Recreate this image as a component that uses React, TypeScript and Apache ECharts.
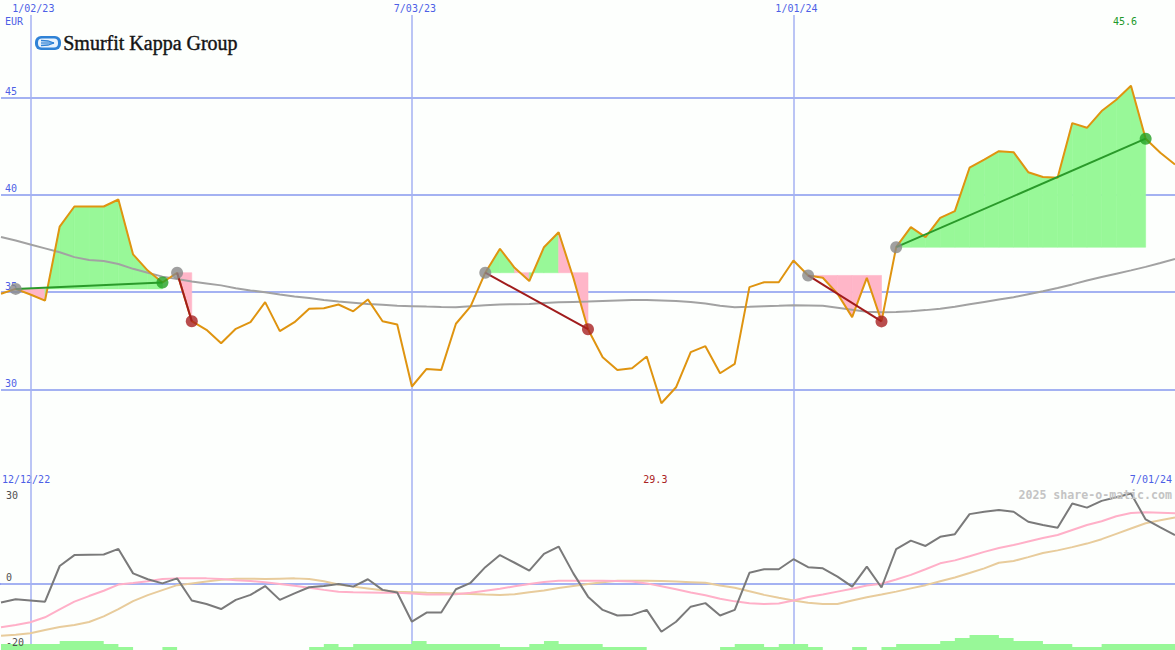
import React, { useEffect, useRef } from 'react';
import * as echarts from 'echarts';

// Weekly closes (index 0 = 19 Dec 2022 ... index 80 = 1 Jul 2024), EUR
const price = [
  34.92, 35.17, 34.88, 34.57, 38.37, 39.4, 39.4, 39.4, 39.76, 36.94,
  36.11, 35.5, 36.0, 33.51, 33.07, 32.38, 33.12, 33.46, 34.49, 33.0,
  33.46, 34.15, 34.18, 34.37, 34.02, 34.63, 33.51, 33.34, 30.16, 31.06,
  31.01, 33.38, 34.27, 36.0, 37.23, 36.25, 35.57, 37.31, 38.08, 35.74,
  33.1, 31.66, 31.01, 31.1, 31.7, 29.3, 30.12, 31.92, 32.23, 30.84,
  31.32, 35.26, 35.51, 35.51, 36.63, 35.86, 35.74, 34.92, 33.72, 35.74,
  33.5, 37.31, 38.34, 37.83, 38.82, 39.16, 41.39, 41.8, 42.24, 42.19,
  41.16, 40.91, 40.88, 43.68, 43.44, 44.3, 44.88, 45.6, 42.88, 42.16,
  41.56,
];

// Long moving average (grey)
const movingAvg = [
  37.83, 37.65, 37.45, 37.25, 37.05, 36.8, 36.65, 36.6, 36.45, 36.2,
  36.0, 35.8, 35.68, 35.55, 35.45, 35.35, 35.2, 35.09, 35.0, 34.88,
  34.78, 34.7, 34.6, 34.52, 34.46, 34.4, 34.35, 34.3, 34.28, 34.26,
  34.24, 34.23, 34.28, 34.33, 34.37, 34.38, 34.4, 34.45, 34.48, 34.5,
  34.52, 34.55, 34.58, 34.6, 34.6, 34.58, 34.55, 34.5, 34.42, 34.3,
  34.23, 34.25, 34.28, 34.3, 34.33, 34.32, 34.3, 34.2, 34.1, 34.0,
  33.97, 33.98, 34.02, 34.08, 34.15, 34.25, 34.38, 34.5, 34.62, 34.74,
  34.9, 35.05, 35.22, 35.4, 35.6, 35.78, 35.95, 36.12, 36.3, 36.5,
  36.71,
];

// Lower panel: oscillator (grey) and its two smoothings (pink, tan)
const oscillator = [
  -6.3, -5.2, -5.6, -6.0, 6.1, 9.8, 9.9, 10.0, 11.9, 3.6,
  1.6, 0.2, 1.9, -5.6, -6.8, -8.5, -5.4, -3.7, -0.7, -5.4,
  -3.2, -1.1, -0.7, 0.0, -0.9, 1.6, -2.0, -2.9, -12.8, -9.7,
  -9.7, -1.8, 0.4, 5.7, 9.8, 7.2, 4.5, 10.2, 12.7, 3.6,
  -4.3, -8.8, -10.7, -10.5, -8.8, -16.2, -12.8, -7.7, -6.5, -10.7,
  -8.8, 3.8, 5.0, 5.0, 8.4, 5.7, 5.3, 2.5, -0.9, 5.9,
  -1.2, 11.8, 14.7, 12.9, 16.0, 16.9, 23.7, 24.5, 25.1, 24.5,
  21.1, 20.0, 19.1, 27.3, 25.9, 28.2, 29.4, 30.7, 21.9, 19.2,
  16.6,
];
const oscPink = [
  -14.7, -13.9, -13.0, -11.3, -8.6, -6.0, -4.1, -2.3, -0.2, 0.3,
  0.9, 1.7, 1.9, 1.9, 1.9, 1.7, 1.3, 1.0, 0.6, 0.0,
  -0.6, -1.3, -2.0, -2.6, -2.8, -2.9, -3.0, -3.0, -3.2, -3.6,
  -3.6, -3.5, -3.0, -2.3, -1.6, -0.8, 0.0, 0.7, 1.1, 1.1,
  1.1, 1.1, 1.0, 0.8, 0.2, -0.8, -1.8, -2.9, -3.8, -5.0,
  -5.9, -6.5, -6.8, -6.6, -5.6, -4.4, -3.6, -2.6, -1.6, -0.5,
  0.1, 1.5, 3.1, 5.0, 7.0, 8.0, 9.4, 10.9, 12.2, 13.2,
  14.4, 15.6, 16.6, 18.3, 20.0, 21.3, 23.0, 24.1, 24.3, 24.2,
  24.0,
];
const oscTan = [
  -17.6, -17.2, -16.7, -15.6, -14.6, -13.9, -12.9, -11.0, -8.5, -5.8,
  -3.8, -2.1, -0.4, 0.2, 0.8, 1.4, 1.8, 1.8, 1.7, 1.8,
  1.9, 1.7, 0.9, -0.2, -0.9, -1.5, -2.1, -2.6, -2.8, -3.0,
  -3.1, -3.2, -3.4, -3.6, -3.7, -3.5, -2.8, -2.2, -1.4, -0.7,
  0.0, 0.6, 1.1, 1.1, 1.1, 1.0, 0.8, 0.6, 0.4, -0.5,
  -1.3, -2.5, -3.7, -4.7, -5.6, -6.4, -6.8, -6.8, -5.6, -4.5,
  -3.6, -2.6, -1.5, -0.4, 0.9, 2.2, 3.7, 5.3, 7.2, 7.8,
  9.1, 10.5, 11.4, 12.5, 13.7, 15.2, 17.0, 18.8, 20.6, 21.6,
  22.6,
];
// Relative weekly volume (arbitrary units)
const volume = [
  6, 6, 6, 6, 9, 9, 9, 6, 3, 0,
  0, 3, 0, 0, 0, 0, 0, 0, 0, 0,
  0, 3, 6, 3, 6, 6, 6, 6, 9, 6,
  6, 6, 6, 6, 3, 3, 6, 9, 6, 6,
  6, 3, 3, 3, 0, 0, 0, 0, 0, 3,
  6, 6, 3, 6, 6, 3, 0, 0, 3, 0,
  3, 6, 6, 6, 9, 12, 15, 15, 12, 9,
  9, 6, 6, 3, 3, 6, 6, 6, 6, 6,
  6,
];

// Trend segments (start / end week index)
const segStarts = [1, 12, 33, 55, 61];
const segEnds = [11, 13, 40, 60, 78];

const dateTickIdx = [2, 28, 54];
const dateTickLabels = ['1/02/23', '7/03/23', '1/01/24'];
const priceTicks = [30, 35, 40, 45];
const oscTicks = [-20, 0, 30];
const oscStartLabel = '12/12/22';
const oscEndLabel = '7/01/24';
const currency = 'EUR';
const companyName = 'Smurfit Kappa Group';
const watermark = '2025 share-o-matic.com';

const MONO = '"DejaVu Sans Mono", monospace';
const GRID_BLUE = '#a4b2f2';
const LABEL_BLUE = '#4d5fe6';
const FILL_GREEN = '#98f898';
const FILL_PINK = '#ffb6c8';

export default function App() {
  const ref = useRef<HTMLDivElement>(null);

  useEffect(() => {
    const chart = echarts.init(ref.current!, null, { renderer: 'svg' });

    const fillData: number[][] = [];
    segStarts.forEach((s, k) => {
      const e = segEnds[k];
      const base = price[s];
      for (let i = s; i < e; i++) {
        fillData.push([i, i + 1, price[i], price[i + 1], base, price[i + 1] >= base ? 1 : 0]);
      }
    });

    const hiIdx = price.indexOf(Math.max(...price));
    const loIdx = price.indexOf(Math.min(...price));

    const trendSeries = segStarts.map((s, k) => {
      const e = segEnds[k];
      const up = price[e] >= price[s];
      return {
        type: 'line',
        xAxisIndex: 0,
        yAxisIndex: 0,
        z: 4,
        symbol: 'none',
        silent: true,
        lineStyle: { color: up ? '#2a9a2a' : '#a01c1c', width: 2 },
        data: [[s, price[s]], [e, price[e]]],
      };
    });

    const endUp = segEnds.filter((e, k) => price[e] >= price[segStarts[k]]).map((e) => [e, price[e]]);
    const endDown = segEnds.filter((e, k) => price[e] < price[segStarts[k]]).map((e) => [e, price[e]]);

    const option: any = {
      animation: false,
      backgroundColor: '#fdfffd',
      grid: [
        { left: 1, right: 0, top: 15, height: 472 },
        { left: 1, right: 0, top: 487, height: 163 },
      ],
      xAxis: [
        {
          type: 'value', gridIndex: 0, min: 0, max: 80, position: 'top',
          axisLine: { show: false },
          axisTick: { show: false, customValues: dateTickIdx },
          axisLabel: {
            customValues: dateTickIdx,
            formatter: (v: number) => dateTickLabels[dateTickIdx.indexOf(v)] ?? '',
            color: LABEL_BLUE, fontFamily: MONO, fontSize: 10, margin: 2,
            padding: [0, 0, 0, 6],
          },
          splitLine: { show: true, lineStyle: { color: GRID_BLUE, width: 1.5 } },
        },
        {
          type: 'value', gridIndex: 1, min: 0, max: 80, position: 'top',
          axisLine: { show: true, lineStyle: { color: '#6e80f0', width: 2 } },
          axisTick: { show: false, customValues: dateTickIdx },
          axisLabel: { show: false },
          splitLine: { show: true, lineStyle: { color: GRID_BLUE, width: 1.5 } },
        },
      ],
      yAxis: [
        {
          type: 'value', gridIndex: 0, min: 25, max: 49.23,
          axisLine: { show: false },
          axisTick: { show: false, customValues: priceTicks },
          axisLabel: {
            customValues: priceTicks, inside: true, margin: 4,
            color: LABEL_BLUE, fontFamily: MONO, fontSize: 10,
            verticalAlign: 'bottom', padding: [0, 0, 1, 0],
          },
          splitLine: { show: true, lineStyle: { color: GRID_BLUE, width: 2 } },
        },
        {
          type: 'value', gridIndex: 1, min: -22.4, max: 32.9, z: 3,
          axisLine: { show: false },
          axisTick: { show: false, customValues: [0] },
          axisLabel: {
            customValues: oscTicks, inside: true, margin: 5,
            color: '#505050', fontFamily: MONO, fontSize: 10,
            formatter: (v: number) => (v === 0 ? '{z|0}' : '{n|' + v + '}'),
            rich: {
              z: { color: '#505050', fontFamily: MONO, fontSize: 10, padding: [0, 0, 13, 0] },
              n: { color: '#505050', fontFamily: MONO, fontSize: 10 },
            },
          },
          splitLine: { show: true, lineStyle: { color: GRID_BLUE, width: 2 } },
        },
        {
          type: 'value', gridIndex: 1, min: 0, max: 163, show: false,
          splitLine: { show: false },
        },
      ],
      series: [
        {
          type: 'custom', xAxisIndex: 0, yAxisIndex: 0, z: 1, silent: true,
          data: fillData,
          encode: { x: 0, y: 2 },
          renderItem: (params: any, api: any) => {
            const x0 = api.value(0), x1 = api.value(1);
            const p0 = api.value(2), p1 = api.value(3), b = api.value(4);
            const col = api.value(5) ? FILL_GREEN : FILL_PINK;
            return {
              type: 'polygon',
              shape: { points: [api.coord([x0, b]), api.coord([x0, p0]), api.coord([x1, p1]), api.coord([x1, b])] },
              style: { fill: col, stroke: col, lineWidth: 0.6 },
            };
          },
        },
        {
          type: 'line', xAxisIndex: 0, yAxisIndex: 0, z: 2, symbol: 'none', silent: true,
          lineStyle: { color: '#a2a2a2', width: 2 },
          data: movingAvg.map((v, i) => [i, v]),
        },
        {
          type: 'line', xAxisIndex: 0, yAxisIndex: 0, z: 3, symbol: 'none', silent: true,
          lineStyle: { color: '#df9410', width: 2 },
          data: price.map((v, i) => [i, v]),
        },
        ...trendSeries,
        {
          type: 'scatter', xAxisIndex: 0, yAxisIndex: 0, z: 5, symbolSize: 12, silent: true,
          itemStyle: { color: '#888888' },
          data: segStarts.map((s) => [s, price[s]]),
        },
        {
          type: 'scatter', xAxisIndex: 0, yAxisIndex: 0, z: 6, symbolSize: 12, silent: true,
          itemStyle: { color: '#23a023' },
          data: endUp,
        },
        {
          type: 'scatter', xAxisIndex: 0, yAxisIndex: 0, z: 6, symbolSize: 12, silent: true,
          itemStyle: { color: '#a82020' },
          data: endDown,
        },
        {
          type: 'custom', xAxisIndex: 0, yAxisIndex: 0, z: 7, silent: true,
          data: [[hiIdx, price[hiIdx], 1], [loIdx, price[loIdx], 0]],
          encode: { x: 0, y: 1 },
          renderItem: (params: any, api: any) => {
            const pt = api.coord([api.value(0), api.value(1)]);
            const cs = params.coordSys;
            const isHi = api.value(2) === 1;
            return {
              type: 'text',
              x: pt[0] - 6,
              y: isHi ? cs.y + 6 : cs.y + cs.height - 8,
              style: {
                text: Number(api.value(1)).toFixed(1),
                fill: isHi ? '#22992a' : '#aa2222',
                font: '10px "DejaVu Sans Mono", monospace',
                textAlign: 'center', textVerticalAlign: 'middle',
                align: 'center', verticalAlign: 'middle',
              },
            };
          },
        },
        {
          type: 'line', xAxisIndex: 1, yAxisIndex: 2, z: 1, symbol: 'none', silent: true,
          step: 'end',
          lineStyle: { width: 0 },
          areaStyle: { color: FILL_GREEN, opacity: 1 },
          data: volume.map((v, i) => [i, v]),
        },
        {
          type: 'line', xAxisIndex: 1, yAxisIndex: 1, z: 5, symbol: 'none', silent: true,
          lineStyle: { color: '#e8cc9c', width: 2 },
          data: oscTan.map((v, i) => [i, v]),
        },
        {
          type: 'line', xAxisIndex: 1, yAxisIndex: 1, z: 5, symbol: 'none', silent: true,
          lineStyle: { color: '#ffb0c8', width: 2 },
          data: oscPink.map((v, i) => [i, v]),
        },
        {
          type: 'line', xAxisIndex: 1, yAxisIndex: 1, z: 6, symbol: 'none', silent: true,
          lineStyle: { color: '#7a7a7a', width: 2 },
          data: oscillator.map((v, i) => [i, v]),
        },
      ],
      graphic: [
        { type: 'text', left: 5, top: 16, style: { text: currency, fill: LABEL_BLUE, font: '10px "DejaVu Sans Mono", monospace' } },
        { type: 'text', left: 2, top: 474, style: { text: oscStartLabel, fill: LABEL_BLUE, font: '10px "DejaVu Sans Mono", monospace' } },
        { type: 'text', right: 3, top: 474, style: { text: oscEndLabel, fill: LABEL_BLUE, font: '10px "DejaVu Sans Mono", monospace' } },
        { type: 'text', right: 3, top: 489, z: 10, style: { text: watermark, fill: '#c4c4c4', font: 'bold 11.6px "DejaVu Sans Mono", monospace' } },
        {
          type: 'group', left: 35, top: 36,
          children: [
            { type: 'rect', shape: { x: 0, y: 0, width: 26, height: 14, r: 6 }, style: { fill: '#2f82d6' } },
            { type: 'rect', shape: { x: 3, y: 2.5, width: 20, height: 9, r: 4 }, style: { fill: '#eaf3fd' } },
            { type: 'polyline', shape: { points: [[6, 4.5], [13, 5], [19, 7]] }, style: { stroke: '#2f82d6', lineWidth: 1.3, fill: 'none' } },
            { type: 'polyline', shape: { points: [[6, 7], [19, 7]] }, style: { stroke: '#2f82d6', lineWidth: 1.3, fill: 'none' } },
            { type: 'polyline', shape: { points: [[6, 9.5], [13, 9], [19, 7]] }, style: { stroke: '#2f82d6', lineWidth: 1.3, fill: 'none' } },
          ],
        },
        {
          type: 'text', left: 63, top: 33,
          style: { text: companyName, fill: '#141414', font: '20px "Liberation Serif", serif', stroke: '#141414', lineWidth: 0.4 },
        },
      ],
    };

    chart.setOption(option);
    return () => chart.dispose();
  }, []);

  return <div ref={ref} style={{ position: 'fixed', left: 0, top: 0, width: 1175, height: 650 }} />;
}
